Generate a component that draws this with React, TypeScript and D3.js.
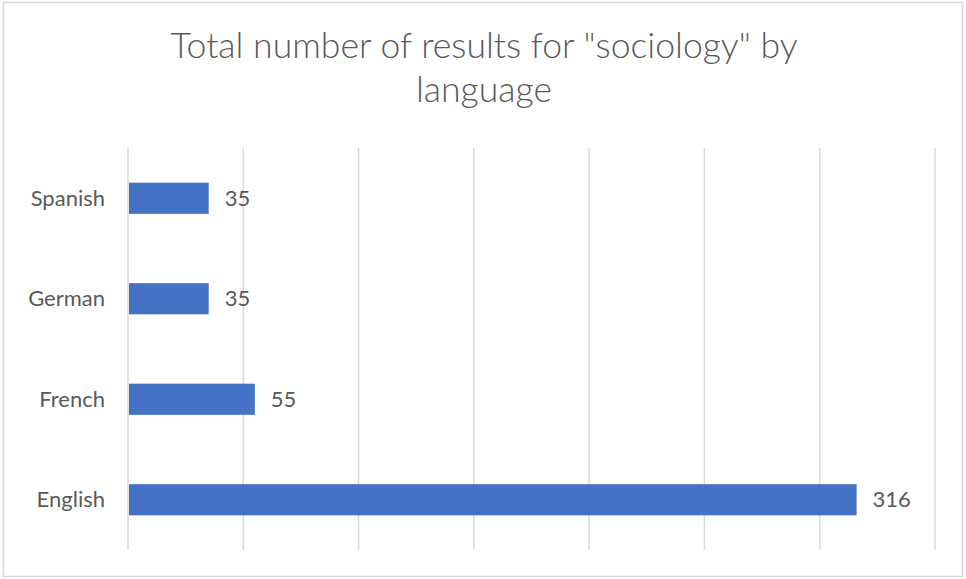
import React from "react";
import * as d3 from "d3";

const categories = ["Spanish", "German", "French", "English"];
const values = [35, 35, 55, 316];
const titleLines = ['Total number of results for "sociology" by', "language"];
const gridTicks = [0, 50, 100, 150, 200, 250, 300, 350];

const W = 966;
const H = 579;
const FONT = "Lato, 'Open Sans', sans-serif";

export default function App() {
  const x = d3.scaleLinear().domain([0, 350]).range([128, 935]);
  const y = d3
    .scaleBand<string>()
    .domain(categories)
    .range([148, 550])
    .paddingInner(0.69)
    .paddingOuter(0.345);

  return (
    <svg
      width={W}
      height={H}
      style={{ position: "absolute", left: 0, top: 0, background: "#fff" }}
    >
      <rect x={0} y={0} width={W} height={H} fill="#fff" />
      <rect x={3.5} y={2.5} width={959} height={574} fill="none" stroke="#d9d9d9" strokeWidth={1.5} />
      <g fill="#595959" fontFamily={FONT} fontSize={35.6} fontWeight={300} textAnchor="middle">
        {titleLines.map((t, i) => (
          <text key={i} x={484} y={58 + i * 44}>
            {t}
          </text>
        ))}
      </g>
      <g>
        {gridTicks.map((t) => (
          <line key={t} x1={x(t)} x2={x(t)} y1={148} y2={550} stroke="#d9d9d9" strokeWidth={1.5} />
        ))}
      </g>
      <g>
        {categories.map((c, i) => (
          <rect
            key={c}
            x={x(0) + 1}
            y={y(c)!}
            width={x(values[i]) - x(0) - 1}
            height={y.bandwidth()}
            fill="#4472c4"
          />
        ))}
      </g>
      <g fill="#595959" fontFamily={FONT} fontSize={22}>
        {categories.map((c, i) => (
          <text key={c} x={105} y={y(c)! + y.bandwidth() / 2} dy="0.35em" textAnchor="end">
            {c}
          </text>
        ))}
        {categories.map((c, i) => (
          <text key={c + "v"} x={x(values[i]) + 16} y={y(c)! + y.bandwidth() / 2} dy="0.35em" textAnchor="start">
            {values[i]}
          </text>
        ))}
      </g>
    </svg>
  );
}
